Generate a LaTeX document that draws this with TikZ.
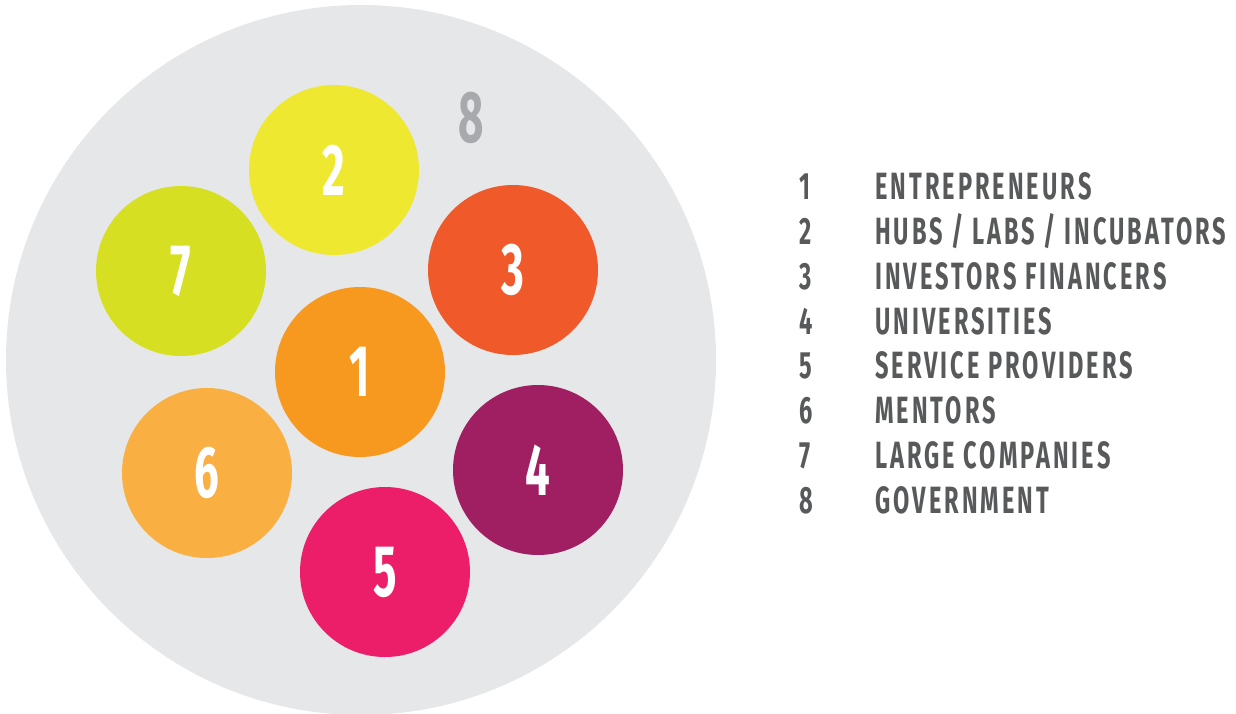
\documentclass[tikz,border=0pt]{standalone}
\usepackage{fontspec}
\newfontfamily\digitfont[FakeStretch=0.6]{Fira Sans}
\newfontfamily\legendfont[FakeStretch=0.62,LetterSpace=8]{Fira Sans}
\usetikzlibrary{positioning}
\definecolor{govgray}{HTML}{E6E7E8}
\definecolor{govtext}{HTML}{A7A9AC}
\definecolor{legtext}{HTML}{58595B}
\definecolor{entre}{HTML}{F7981F}
\definecolor{hubs}{HTML}{EFE830}
\definecolor{invest}{HTML}{F05A2B}
\definecolor{univ}{HTML}{A01F63}
\definecolor{service}{HTML}{EC1E6A}
\definecolor{mentor}{HTML}{FAAF42}
\definecolor{large}{HTML}{D7DF23}
\tikzstyle{actor} = [circle,
minimum size=170pt,
inner sep=0pt,
text=white,
font=\digitfont\bfseries\fontsize{73}{73}\selectfont]
\tikzstyle{legnum} = [anchor=base west,
inner sep=0pt,
text=legtext,
font=\legendfont\bfseries\fontsize{38}{38}\selectfont]

\begin{document}
\begin{tikzpicture}[x=1pt, y=-1pt,
	legtxt/.style={legnum, anchor=base west}]
	\useasboundingbox (0,0) rectangle (1236,713);
	%% the whole ecosystem
	\fill [govgray] (361,360) circle (355pt);
	\node [text=govtext, inner sep=0pt,
		font=\digitfont\bfseries\fontsize{73}{73}\selectfont] (P8) at (471,118) {8};
	%% actors
	\node [actor, fill=entre] (P1) at (360,372) {1};
	\node [actor, fill=hubs] (P2) at (334,170) {2};
	\node [actor, fill=invest] (P3) at (513,270) {3};
	\node [actor, fill=univ] (P4) at (538,470) {4};
	\node [actor, fill=service] (P5) at (385,572) {5};
	\node [actor, fill=mentor] (P6) at (207,473) {6};
	\node [actor, fill=large] (P7) at (181,271) {7};
	%% legend
	\node [legnum] (N1) at (799,199) {1};
	\node [legtxt] (T1) at (875,199) {ENTREPRENEURS};
	\node [legnum] (N2) at (799,244) {2};
	\node [legtxt] (T2) at (875,244) {HUBS / LABS / INCUBATORS};
	\node [legnum] (N3) at (799,289) {3};
	\node [legtxt] (T3) at (875,289) {INVESTORS FINANCERS};
	\node [legnum] (N4) at (799,334) {4};
	\node [legtxt] (T4) at (875,334) {UNIVERSITIES};
	\node [legnum] (N5) at (799,378) {5};
	\node [legtxt] (T5) at (875,378) {SERVICE PROVIDERS};
	\node [legnum] (N6) at (799,423) {6};
	\node [legtxt] (T6) at (875,423) {MENTORS};
	\node [legnum] (N7) at (799,468) {7};
	\node [legtxt] (T7) at (875,468) {LARGE COMPANIES};
	\node [legnum] (N8) at (799,513) {8};
	\node [legtxt] (T8) at (875,513) {GOVERNMENT};
\end{tikzpicture}
\end{document}
